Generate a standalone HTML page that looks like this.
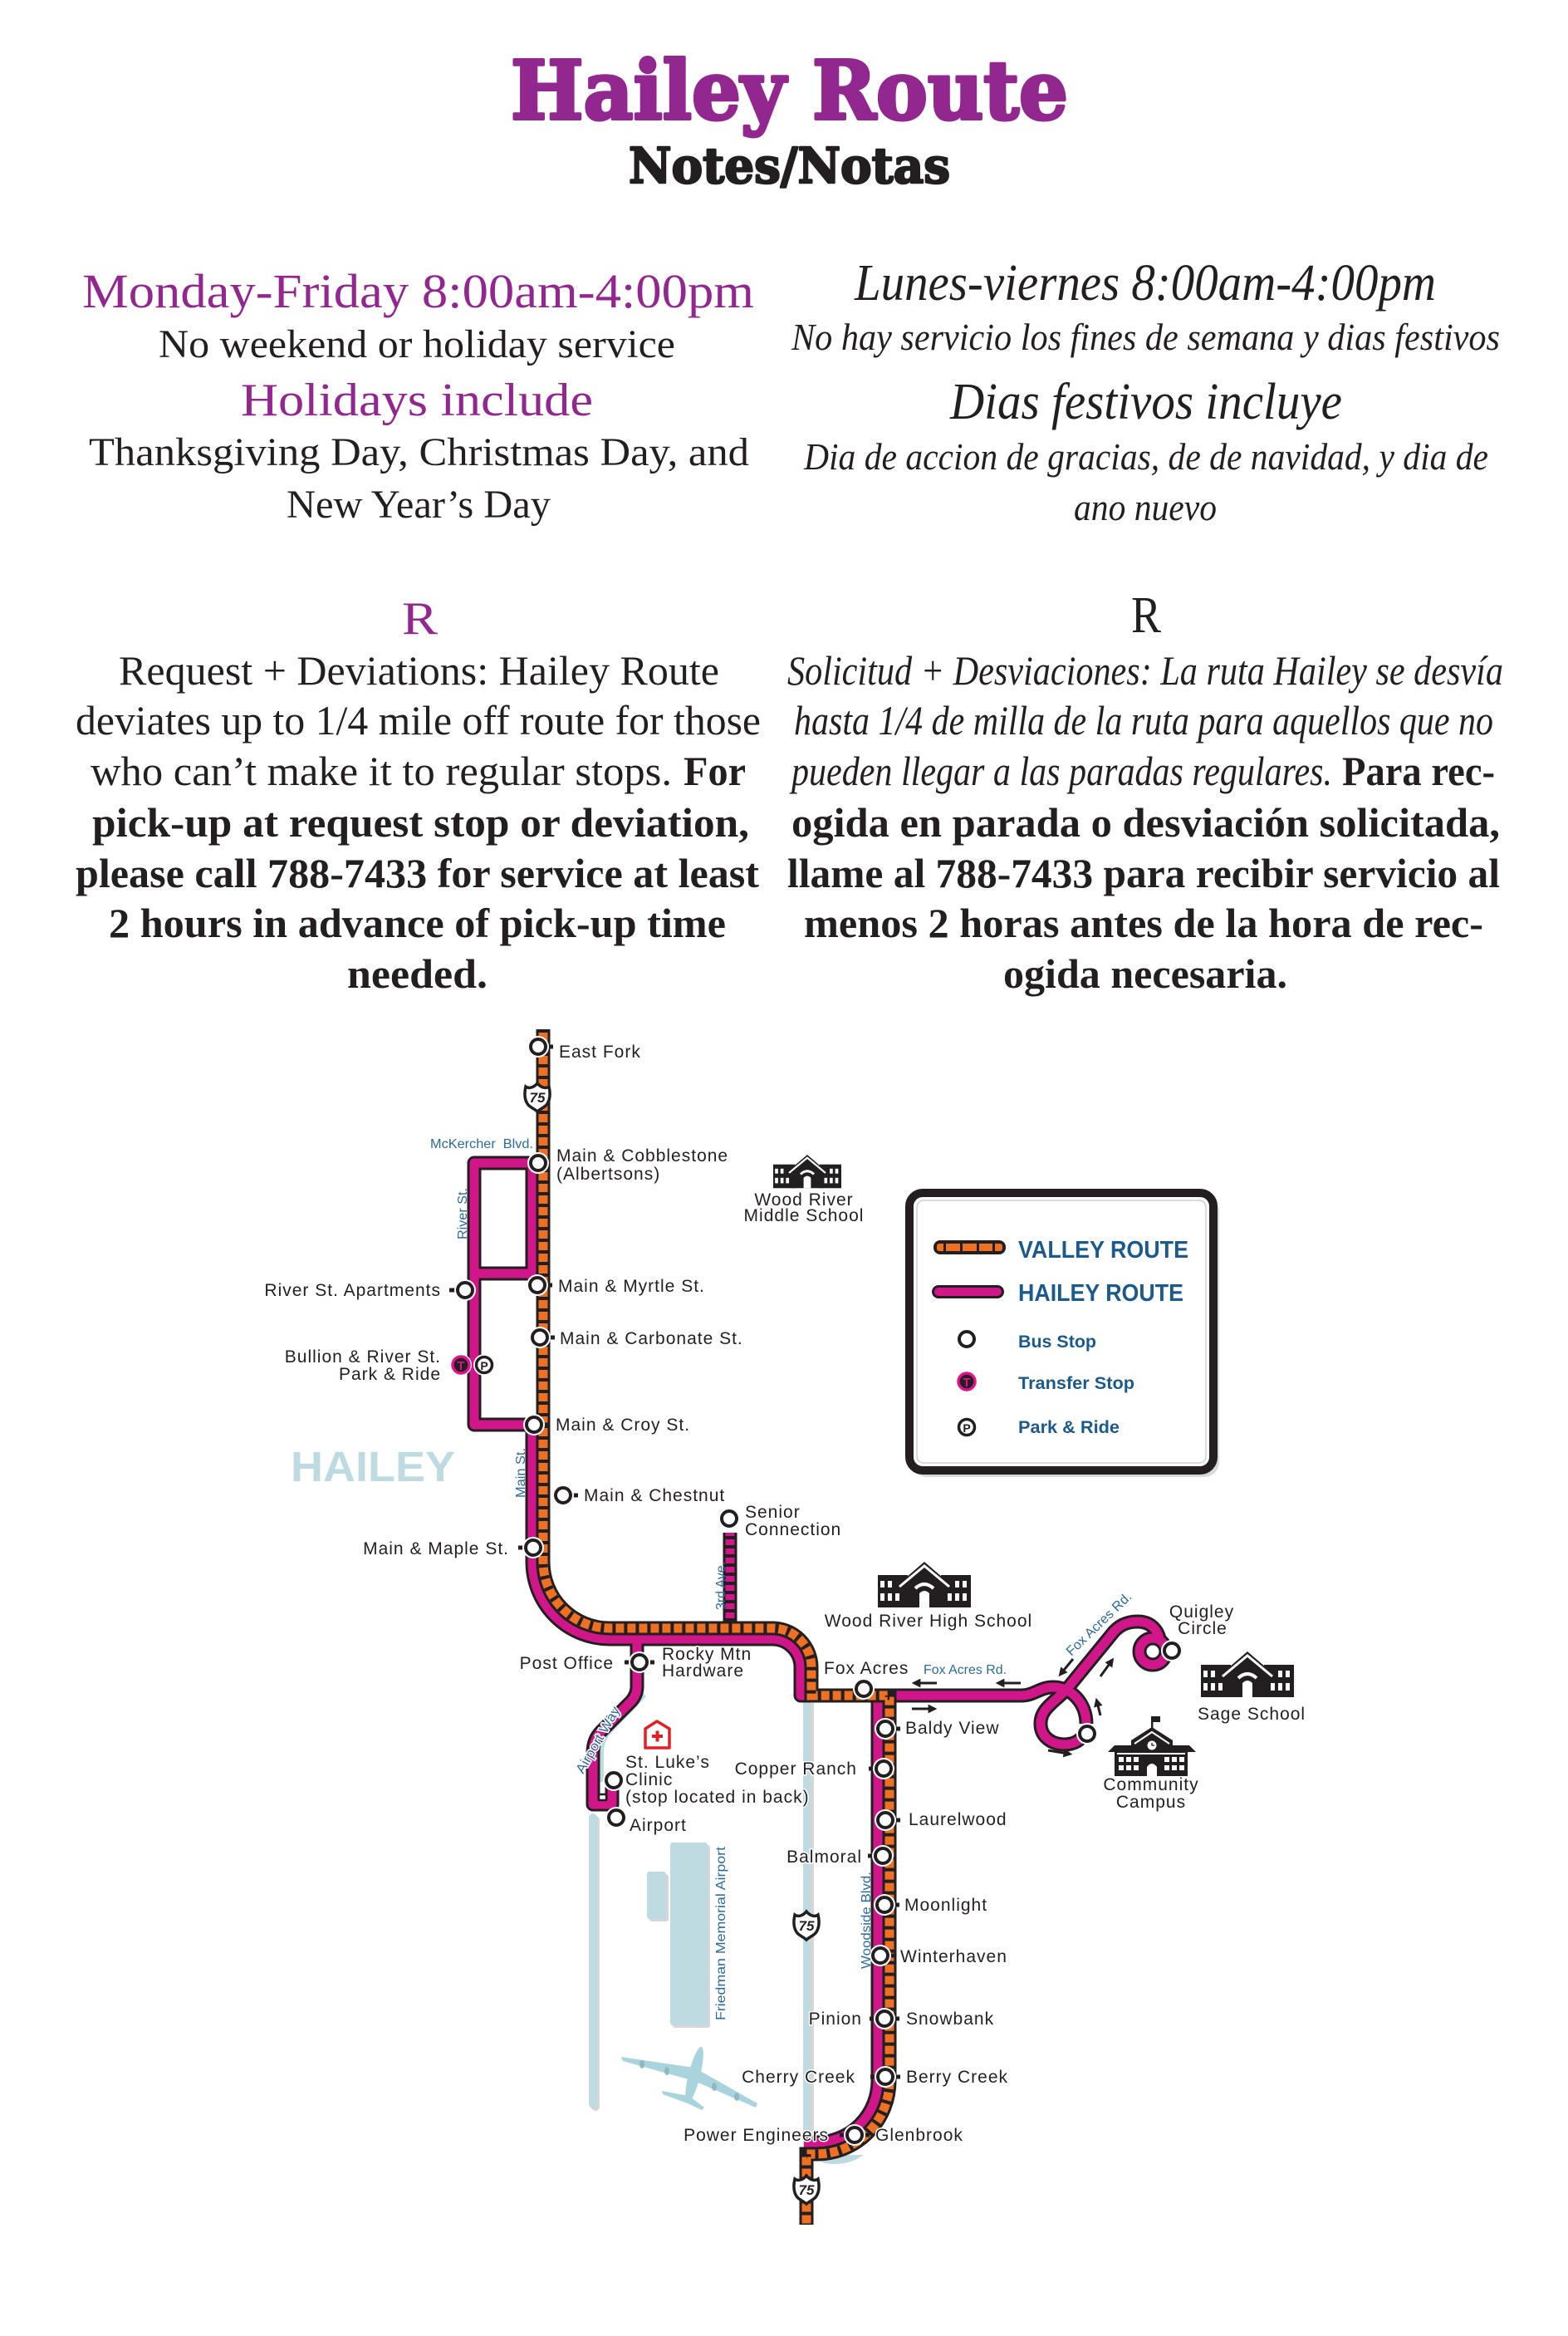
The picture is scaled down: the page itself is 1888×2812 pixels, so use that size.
<!DOCTYPE html>
<html><head><meta charset="utf-8"><title>Hailey Route</title>
<style>
html,body{margin:0;padding:0;background:#fff;}
svg{display:block;}
.sf{font-family:"Liberation Serif","DejaVu Serif",serif;}
.lb{font-family:"Liberation Sans",sans-serif;font-size:21px;fill:#231f20;letter-spacing:1px;paint-order:stroke;stroke:#fff;stroke-width:3px;stroke-linejoin:round;}
.bl{font-family:"Liberation Sans",sans-serif;font-size:16px;fill:#2a6b9b;}
.lg{font-family:"Liberation Sans",sans-serif;font-weight:bold;fill:#1b5a8b;}
</style></head>
<body>
<svg width="1888" height="2812" viewBox="0 0 1888 2812" xmlns="http://www.w3.org/2000/svg">
<defs>
 <marker id="ah" viewBox="0 0 10 10" refX="5" refY="5" markerWidth="3.6" markerHeight="3.6" orient="auto"><path d="M0,0 L10,5 L0,10 z" fill="#231f20"/></marker>
 <g id="stop"><circle r="13" fill="#fff"/><circle r="9" fill="#fff" stroke="#231f20" stroke-width="4"/></g>
 <path id="shield" d="M-14,-12 C-10,-9 -4,-11 0,-16 C4,-11 10,-9 14,-12 C16,-3 15,5 11,10 C7,14 3,15 0,18 C-3,15 -7,14 -11,10 C-15,5 -16,-3 -14,-12 Z" fill="#fff" stroke="#231f20" stroke-width="3.5"/>
 <g id="school">
  <g fill="#231f20">
   <rect x="0" y="16" width="36" height="39"/>
   <rect x="76" y="16" width="36" height="39"/>
   <polygon points="20,31 56,0 92,31 82,31 82,55 30,55 30,31"/>
  </g>
  <polyline points="26,30 56,5 86,30" fill="none" stroke="#fff" stroke-width="3"/>
  <g fill="#fff">
   <rect x="3" y="23" width="5" height="8"/><rect x="12" y="23" width="5" height="8"/>
   <rect x="3" y="38" width="5" height="9"/><rect x="12" y="38" width="5" height="9"/><rect x="21" y="38" width="5" height="9"/>
   <rect x="93" y="23" width="5" height="8"/><rect x="102" y="23" width="5" height="8"/>
   <rect x="84" y="38" width="5" height="9"/><rect x="93" y="38" width="5" height="9"/><rect x="102" y="38" width="5" height="9"/>
   <path d="M50,55 V38 Q56,32 62,38 V55 Z"/>
  </g>
  <path d="M45,32 Q56,22 67,32" fill="none" stroke="#fff" stroke-width="4"/>
 </g>
</defs>

<!-- ===== HEADER ===== -->
<text x="615" y="143" textLength="671" lengthAdjust="spacingAndGlyphs" font-family="DejaVu Serif, serif" font-weight="bold" font-size="97" fill="#92278f" stroke="#92278f" stroke-width="4" stroke-linejoin="round">Hailey Route</text>
<text x="757" y="220" textLength="387" lengthAdjust="spacingAndGlyphs" font-family="DejaVu Serif, serif" font-weight="bold" font-size="59" fill="#231f20" stroke="#231f20" stroke-width="2.5" stroke-linejoin="round">Notes/Notas</text>

<g class="sf" fill="#231f20">
 <text x="99" y="370" textLength="809" lengthAdjust="spacingAndGlyphs" font-size="58" fill="#92278f">Monday-Friday 8:00am-4:00pm</text>
 <text x="191" y="430" textLength="622" lengthAdjust="spacingAndGlyphs" font-size="48">No weekend or holiday service</text>
 <text x="290" y="500" textLength="424" lengthAdjust="spacingAndGlyphs" font-size="56" fill="#92278f">Holidays include</text>
 <text x="107" y="560" textLength="795" lengthAdjust="spacingAndGlyphs" font-size="48">Thanksgiving Day, Christmas Day, and</text>
 <text x="345" y="623" textLength="318" lengthAdjust="spacingAndGlyphs" font-size="48">New Year’s Day</text>

 <text x="1029" y="361" textLength="700" lengthAdjust="spacingAndGlyphs" font-size="62" font-style="italic">Lunes-viernes 8:00am-4:00pm</text>
 <text x="953" y="421" textLength="853" lengthAdjust="spacingAndGlyphs" font-size="46" font-style="italic">No hay servicio los fines de semana y dias festivos</text>
 <text x="1144" y="504" textLength="472" lengthAdjust="spacingAndGlyphs" font-size="62" font-style="italic">Dias festivos incluye</text>
 <text x="968" y="565" textLength="824" lengthAdjust="spacingAndGlyphs" font-size="46" font-style="italic">Dia de accion de gracias, de de navidad, y dia de</text>
 <text x="1293" y="626" textLength="172" lengthAdjust="spacingAndGlyphs" font-size="46" font-style="italic">ano nuevo</text>

 <text x="484" y="763" textLength="43" lengthAdjust="spacingAndGlyphs" font-size="56" fill="#92278f">R</text>
 <text x="1362" y="761" textLength="36" lengthAdjust="spacingAndGlyphs" font-size="62">R</text>

 <text x="143" y="824" textLength="723" lengthAdjust="spacingAndGlyphs" font-size="50">Request + Deviations: Hailey Route</text>
 <text x="91" y="884" textLength="825" lengthAdjust="spacingAndGlyphs" font-size="50">deviates up to 1/4 mile off route for those</text>
 <text x="109" y="945" textLength="700" lengthAdjust="spacingAndGlyphs" font-size="50">who can’t make it to regular stops.</text>
 <text x="823" y="945" textLength="75" lengthAdjust="spacingAndGlyphs" font-size="50" font-weight="bold">For</text>
 <text x="111" y="1007" textLength="791" lengthAdjust="spacingAndGlyphs" font-size="50" font-weight="bold">pick-up at request stop or deviation,</text>
 <text x="91" y="1068" textLength="823" lengthAdjust="spacingAndGlyphs" font-size="50" font-weight="bold">please call 788-7433 for service at least</text>
 <text x="131" y="1128" textLength="743" lengthAdjust="spacingAndGlyphs" font-size="50" font-weight="bold">2 hours in advance of pick-up time</text>
 <text x="418" y="1189" textLength="169" lengthAdjust="spacingAndGlyphs" font-size="50" font-weight="bold">needed.</text>

 <text x="948" y="824" textLength="862" lengthAdjust="spacingAndGlyphs" font-size="50" font-style="italic">Solicitud + Desviaciones: La ruta Hailey se desvía</text>
 <text x="956" y="884" textLength="842" lengthAdjust="spacingAndGlyphs" font-size="50" font-style="italic">hasta 1/4 de milla de la ruta para aquellos que no</text>
 <text x="953" y="945" textLength="651" lengthAdjust="spacingAndGlyphs" font-size="50" font-style="italic">pueden llegar a las paradas regulares.</text>
 <text x="1616" y="945" textLength="184" lengthAdjust="spacingAndGlyphs" font-size="50" font-weight="bold">Para rec-</text>
 <text x="953" y="1007" textLength="853" lengthAdjust="spacingAndGlyphs" font-size="50" font-weight="bold">ogida en parada o desviación solicitada,</text>
 <text x="948" y="1068" textLength="858" lengthAdjust="spacingAndGlyphs" font-size="50" font-weight="bold">llame al 788-7433 para recibir servicio al</text>
 <text x="968" y="1128" textLength="818" lengthAdjust="spacingAndGlyphs" font-size="50" font-weight="bold">menos 2 horas antes de la hora de rec-</text>
 <text x="1208" y="1189" textLength="342" lengthAdjust="spacingAndGlyphs" font-size="50" font-weight="bold">ogida necesaria.</text>
</g>

<!-- ===== MAP: light blue background features ===== -->
<text x="350" y="1783" textLength="198" lengthAdjust="spacingAndGlyphs" font-family="Liberation Sans, sans-serif" font-weight="bold" font-size="51" fill="#bddbe1">HAILEY</text>
<g fill="#d6d6d6">
 <rect x="712" y="2186" width="10" height="355" rx="5"/>
 <rect x="971" y="2050" width="9" height="545"/>
 <rect x="810" y="2221" width="45" height="220" rx="3"/>
 <rect x="782" y="2256" width="23" height="57" rx="3"/>
</g>
<g fill="#bddbe1">
 <rect x="709" y="2183" width="10" height="355" rx="5"/>
 <rect x="967" y="2048" width="9" height="545"/>
 <rect x="807" y="2218" width="45" height="220" rx="3"/>
 <rect x="779" y="2253" width="23" height="57" rx="3"/>
 <path d="M975,2596 Q1000,2612 1030,2600 L1040,2594 L976,2594 Z"/>
</g>
<path d="M776,2040 L734,2084 Q724,2094 724,2110 V2145" fill="none" stroke="#bddbe1" stroke-width="6"/>
<!-- airplane -->
<g fill="#a9d4dd">
 <polygon points="748,2476 836,2489 912,2532 910,2537 836,2505 750,2481"/>
 <polygon points="797,2517 830,2523 848,2537 845,2540 828,2532 798,2521"/>
 <ellipse cx="836" cy="2498" rx="7" ry="35" transform="rotate(14 836 2498)"/>
</g>
<g fill="#8fb9c1">
 <ellipse cx="773" cy="2485" rx="3" ry="5"/><ellipse cx="803" cy="2493" rx="3" ry="5"/>
 <ellipse cx="860" cy="2512" rx="3" ry="5"/><ellipse cx="887" cy="2524" rx="3" ry="5"/>
</g>

<!-- ===== MAGENTA (Hailey route) ===== -->
<g fill="none" stroke-linejoin="round">
 <g stroke="#231f20" stroke-width="17">
  <path d="M641,1400 H571 V1715 H641"/>
  <path d="M571,1533 H641"/>
  <path d="M641,1400 V1540"/>
  <path d="M641,1715 V1880 A93,93 0 0 0 734,1973 H930 A34,34 0 0 1 964,2007 V2041 H1057 V2505 A74,74 0 0 1 983,2579 H968"/>
  <path d="M767,1975 V2030 Q767,2040 760,2048 L724,2084 Q714,2094 714,2110 V2172 H737 V2150"/>
  <path d="M1071,2041 H1230 C1245,2041 1252,2031 1268,2031 C1290,2031 1308,2050 1308,2075"/>
  <path d="M1302,2092 C1290,2106 1254,2102 1253,2076 C1252,2058 1268,2050 1284,2034 L1338,1968 C1346,1957 1356,1952 1370,1952 C1382,1952 1392,1958 1396,1972"/>
  <circle cx="1388" cy="1988" r="16"/>
 </g>
 <g stroke="#d1168a" stroke-width="11">
  <path d="M641,1400 H571 V1715 H641"/>
  <path d="M571,1533 H641"/>
  <path d="M641,1400 V1540"/>
  <path d="M641,1715 V1880 A93,93 0 0 0 734,1973 H930 A34,34 0 0 1 964,2007 V2041 H1057 V2505 A74,74 0 0 1 983,2579 H968"/>
  <path d="M767,1975 V2030 Q767,2040 760,2048 L724,2084 Q714,2094 714,2110 V2172 H737 V2150"/>
  <path d="M1071,2041 H1230 C1245,2041 1252,2031 1268,2031 C1290,2031 1308,2050 1308,2075"/>
  <path d="M1302,2092 C1290,2106 1254,2102 1253,2076 C1252,2058 1268,2050 1284,2034 L1338,1968 C1346,1957 1356,1952 1370,1952 C1382,1952 1392,1958 1396,1972"/>
  <circle cx="1388" cy="1988" r="16"/>
 </g>
 <!-- 3rd Ave spur -->
 <path d="M879,1845 V1958" stroke="#231f20" stroke-width="17"/>
 <path d="M879,1845 V1958" stroke="#d1168a" stroke-width="11"/>
 <path d="M879,1849 V1958" stroke="#231f20" stroke-width="11" stroke-dasharray="4 7"/>
</g>
<rect x="721" y="2160" width="9" height="7" fill="#fff" stroke="#231f20" stroke-width="2.5"/>

<!-- ===== ORANGE (Valley route) ===== -->
<g fill="none">
 <path d="M654,1239 V1880 A80,80 0 0 0 734,1960 H930 A47,47 0 0 1 977,2007 V2041 H1071 V2505 A88,88 0 0 1 983,2593 H971 V2678" stroke="#231f20" stroke-width="17"/>
 <path d="M654,1239 V1880 A80,80 0 0 0 734,1960 H930 A47,47 0 0 1 977,2007 V2041 H1071 V2505 A88,88 0 0 1 983,2593 H971 V2678" stroke="#ee7023" stroke-width="11"/>
 <path d="M654,1239 V1880 A80,80 0 0 0 734,1960 H930 A47,47 0 0 1 977,2007 V2041 H1071 V2505 A88,88 0 0 1 983,2593 H971 V2678" stroke="#231f20" stroke-width="11" stroke-dasharray="4 10"/>
</g>

<!-- shields -->
<use href="#shield" x="647" y="1320"/>
<use href="#shield" x="971" y="2317"/>
<use href="#shield" x="971" y="2635"/>
<g font-family="Liberation Sans, sans-serif" font-weight="bold" font-size="17" fill="#231f20" text-anchor="middle" font-style="italic">
 <text x="647" y="1327">75</text>
 <text x="971" y="2324">75</text>
 <text x="971" y="2642">75</text>
</g>

<!-- arrows -->
<g stroke="#231f20" stroke-width="3" marker-end="url(#ah)">
 <line x1="1128" y1="2026" x2="1103" y2="2026"/>
 <line x1="1229" y1="2026" x2="1204" y2="2026"/>
 <line x1="1098" y1="2057" x2="1123" y2="2057"/>
 <line x1="1292" y1="1997" x2="1278" y2="2014"/>
 <line x1="1325" y1="2018" x2="1338" y2="2000"/>
 <line x1="1325" y1="2065" x2="1321" y2="2049"/>
 <line x1="1262" y1="2107" x2="1286" y2="2111"/>
</g>

<!-- stop ticks -->
<g fill="#231f20">
 <rect x="657" y="1257.5" width="9" height="5"/>
 <rect x="541" y="1550.5" width="9" height="5"/>
 <rect x="656" y="1544.5" width="9" height="5"/>
 <rect x="659" y="1607.5" width="9" height="5"/>
 <rect x="652" y="1712.5" width="9" height="5"/>
 <rect x="687" y="1797.5" width="9" height="5"/>
 <rect x="624" y="1860.5" width="9" height="5"/>
 <rect x="752" y="1998.5" width="9" height="5"/><rect x="779" y="1998.5" width="9" height="5"/>
 <rect x="1075" y="2078.5" width="9" height="5"/>
 <rect x="1046" y="2126.5" width="9" height="5"/>
 <rect x="1075" y="2188.5" width="9" height="5"/>
 <rect x="1045" y="2231.5" width="9" height="5"/>
 <rect x="1074" y="2290.5" width="9" height="5"/>
 <rect x="1069" y="2351.5" width="9" height="5"/>
 <rect x="1047" y="2427.5" width="9" height="5"/><rect x="1074" y="2427.5" width="9" height="5"/>
 <rect x="1048" y="2497.5" width="9" height="5"/><rect x="1075" y="2497.5" width="9" height="5"/>
 <rect x="1011" y="2567.5" width="9" height="5"/><rect x="1038" y="2567.5" width="9" height="5"/>
</g>

<!-- stops -->
<use href="#stop" x="648" y="1260"/>
<use href="#stop" x="648" y="1400"/>
<use href="#stop" x="560" y="1553"/>
<use href="#stop" x="647" y="1547"/>
<use href="#stop" x="650" y="1610"/>
<use href="#stop" x="643" y="1715"/>
<use href="#stop" x="678" y="1800"/>
<use href="#stop" x="642" y="1863"/>
<use href="#stop" x="878" y="1828"/>
<use href="#stop" x="770" y="2001"/>
<use href="#stop" x="1040" y="2033"/>
<use href="#stop" x="1066" y="2081"/>
<use href="#stop" x="1064" y="2129"/>
<use href="#stop" x="739" y="2143"/>
<use href="#stop" x="742" y="2188"/>
<use href="#stop" x="1066" y="2191"/>
<use href="#stop" x="1063" y="2234"/>
<use href="#stop" x="1065" y="2293"/>
<use href="#stop" x="1060" y="2354"/>
<use href="#stop" x="1065" y="2430"/>
<use href="#stop" x="1066" y="2500"/>
<use href="#stop" x="1029" y="2570"/>
<use href="#stop" x="1411" y="1987"/>
<use href="#stop" x="1309" y="2087"/>

<!-- transfer + park -->
<circle cx="555" cy="1643" r="13" fill="#fff"/>
<circle cx="555" cy="1643" r="10" fill="#231f20" stroke="#e0118c" stroke-width="3.5"/>
<text x="555" y="1649" text-anchor="middle" font-family="Liberation Sans, sans-serif" font-weight="bold" font-size="15" fill="#e0118c">T</text>
<circle cx="583" cy="1643" r="13" fill="#fff"/>
<circle cx="583" cy="1643" r="9.5" fill="#fff" stroke="#231f20" stroke-width="3.5"/>
<text x="583" y="1649" text-anchor="middle" font-family="Liberation Sans, sans-serif" font-weight="bold" font-size="14" fill="#231f20">P</text>

<!-- hospital -->
<polygon points="777,2081 791,2072 806,2081 806,2104 777,2104" fill="#fff" stroke="#e31e24" stroke-width="3.5" stroke-linejoin="round"/>
<rect x="785" y="2088" width="13" height="4" fill="#e31e24"/>
<rect x="789.5" y="2083.5" width="4" height="13" fill="#e31e24"/>

<!-- schools -->
<use href="#school" transform="translate(1057,1880)"/>
<use href="#school" transform="translate(1446,1988)"/>
<use href="#school" transform="translate(931,1390) scale(0.732)"/>
<!-- community campus -->
<g>
 <rect x="1386" y="2066" width="2.5" height="16" fill="#231f20"/>
 <rect x="1388" y="2066" width="9" height="7" fill="#231f20"/>
 <polygon points="1334,2109 1342,2101 1362,2101 1362,2095 1387,2079 1412,2095 1412,2101 1432,2101 1440,2109 1430,2109 1430,2138 1342,2138 1342,2109" fill="#231f20"/>
 <polyline points="1345,2111 1427,2111" stroke="#fff" stroke-width="2"/>
 <polyline points="1366,2099 1387,2085 1408,2099" fill="none" stroke="#fff" stroke-width="2"/>
 <circle cx="1387" cy="2101" r="5.5" fill="#fff"/>
 <path d="M1387,2098 V2101 H1390" stroke="#231f20" stroke-width="1.3" fill="none"/>
 <g fill="#fff">
  <rect x="1347" y="2115" width="6" height="6"/><rect x="1356" y="2115" width="6" height="6"/><rect x="1365" y="2115" width="6" height="6"/>
  <rect x="1347" y="2125" width="6" height="6"/><rect x="1356" y="2125" width="6" height="6"/><rect x="1365" y="2125" width="6" height="6"/>
  <rect x="1402" y="2115" width="6" height="6"/><rect x="1411" y="2115" width="6" height="6"/><rect x="1420" y="2115" width="6" height="6"/>
  <rect x="1402" y="2125" width="6" height="6"/><rect x="1411" y="2125" width="6" height="6"/><rect x="1420" y="2125" width="6" height="6"/>
  <path d="M1381,2138 V2127 Q1387,2119 1393,2127 V2138 Z"/>
 </g>
</g>

<!-- ===== MAP LABELS ===== -->
<g class="lb">
 <text x="673" y="1273">East Fork</text>
 <text x="670" y="1398">Main &amp; Cobblestone</text>
 <text x="670" y="1420">(Albertsons)</text>
 <text x="531" y="1560" text-anchor="end">River St. Apartments</text>
 <text x="672" y="1555">Main &amp; Myrtle St.</text>
 <text x="674" y="1618">Main &amp; Carbonate St.</text>
 <text x="531" y="1640" text-anchor="end">Bullion &amp; River St.</text>
 <text x="531" y="1661" text-anchor="end">Park &amp; Ride</text>
 <text x="669" y="1722">Main &amp; Croy St.</text>
 <text x="703" y="1807">Main &amp; Chestnut</text>
 <text x="613" y="1871" text-anchor="end">Main &amp; Maple St.</text>
 <text x="897" y="1827">Senior</text>
 <text x="897" y="1848">Connection</text>
 <text x="968" y="1451" text-anchor="middle">Wood River</text>
 <text x="968" y="1470" text-anchor="middle">Middle School</text>
 <text x="739" y="2009" text-anchor="end">Post Office</text>
 <text x="797" y="1998">Rocky Mtn</text>
 <text x="797" y="2018">Hardware</text>
 <text x="1118" y="1958" text-anchor="middle">Wood River High School</text>
 <text x="992" y="2015">Fox Acres</text>
 <text x="1447" y="1947" text-anchor="middle">Quigley</text>
 <text x="1448" y="1967" text-anchor="middle">Circle</text>
 <text x="1442" y="2070">Sage School</text>
 <text x="1386" y="2155" text-anchor="middle">Community</text>
 <text x="1386" y="2176" text-anchor="middle">Campus</text>
 <text x="1090" y="2087">Baldy View</text>
 <text x="1032" y="2136" text-anchor="end">Copper Ranch</text>
 <text x="753" y="2128">St. Luke’s</text>
 <text x="753" y="2149">Clinic</text>
 <text x="753" y="2170">(stop located in back)</text>
 <text x="758" y="2204">Airport</text>
 <text x="1094" y="2197">Laurelwood</text>
 <text x="1038" y="2242" text-anchor="end">Balmoral</text>
 <text x="1089" y="2300">Moonlight</text>
 <text x="1084" y="2362">Winterhaven</text>
 <text x="1038" y="2437" text-anchor="end">Pinion</text>
 <text x="1091" y="2437">Snowbank</text>
 <text x="1030" y="2507" text-anchor="end">Cherry Creek</text>
 <text x="1091" y="2507">Berry Creek</text>
 <text x="998" y="2577" text-anchor="end">Power Engineers</text>
 <text x="1054" y="2577">Glenbrook</text>
</g>
<g class="bl">
 <text x="518" y="1382" textLength="124" lengthAdjust="spacingAndGlyphs">McKercher&#160;&#160;Blvd.</text>
 <text transform="translate(562,1492) rotate(-90)" textLength="62" lengthAdjust="spacingAndGlyphs">River St.</text>
 <text transform="translate(632,1803) rotate(-90)" textLength="60" lengthAdjust="spacingAndGlyphs">Main St.</text>
 <text transform="translate(873,1938) rotate(-90)" textLength="58" lengthAdjust="spacingAndGlyphs">3rd Ave.</text>
 <text x="1112" y="2015" textLength="100" lengthAdjust="spacingAndGlyphs">Fox Acres Rd.</text>
 <text transform="translate(1290,1994) rotate(-44)" textLength="102" lengthAdjust="spacingAndGlyphs">Fox Acres Rd.</text>
 <text transform="translate(702,2136) rotate(-60)" textLength="90" lengthAdjust="spacingAndGlyphs" style="paint-order:stroke;stroke:#fff;stroke-width:3px">Airport Way</text>
 <text transform="translate(1048,2370) rotate(-90)" textLength="117" lengthAdjust="spacingAndGlyphs">Woodside Blvd.</text>
 <text transform="translate(873,2432) rotate(-90)" textLength="209" lengthAdjust="spacingAndGlyphs">Friedman Memorial Airport</text>
</g>

<!-- ===== LEGEND ===== -->
<rect x="1098" y="1440" width="370" height="338" rx="18" fill="#d9d9d9"/>
<rect x="1095" y="1436" width="366" height="334" rx="16" fill="#fff" stroke="#231f20" stroke-width="10"/>
<rect x="1104" y="1445" width="348" height="316" rx="8" fill="none" stroke="#cfcfcf" stroke-width="1.5"/>
<rect x="1124" y="1493" width="87" height="17" rx="8" fill="#231f20"/>
<rect x="1128" y="1497" width="79" height="9" rx="3" fill="#ee7023"/>
<g fill="#231f20"><rect x="1136" y="1496" width="3" height="11"/><rect x="1156" y="1496" width="3" height="11"/><rect x="1176" y="1496" width="3" height="11"/><rect x="1195" y="1496" width="3" height="11"/></g>
<rect x="1122" y="1547" width="87" height="16" rx="8" fill="#231f20"/>
<rect x="1125" y="1550" width="81" height="10" rx="5" fill="#d1168a"/>
<text class="lg" x="1226" y="1514" font-size="29" textLength="205" lengthAdjust="spacingAndGlyphs">VALLEY ROUTE</text>
<text class="lg" x="1226" y="1566" font-size="29" textLength="199" lengthAdjust="spacingAndGlyphs">HAILEY ROUTE</text>
<circle cx="1164" cy="1612" r="9" fill="#fff" stroke="#231f20" stroke-width="4"/>
<text class="lg" x="1226" y="1622" font-size="21" textLength="94" lengthAdjust="spacingAndGlyphs">Bus Stop</text>
<circle cx="1164" cy="1663" r="10" fill="#231f20" stroke="#e0118c" stroke-width="3.5"/>
<text x="1164" y="1669" text-anchor="middle" font-family="Liberation Sans, sans-serif" font-weight="bold" font-size="15" fill="#e0118c">T</text>
<text class="lg" x="1226" y="1672" font-size="21" textLength="140" lengthAdjust="spacingAndGlyphs">Transfer Stop</text>
<circle cx="1164" cy="1718" r="9.5" fill="#fff" stroke="#231f20" stroke-width="3.5"/>
<text x="1164" y="1724" text-anchor="middle" font-family="Liberation Sans, sans-serif" font-weight="bold" font-size="14" fill="#231f20">P</text>
<text class="lg" x="1226" y="1725" font-size="21" textLength="122" lengthAdjust="spacingAndGlyphs">Park &amp; Ride</text>
</svg>
</body></html>
